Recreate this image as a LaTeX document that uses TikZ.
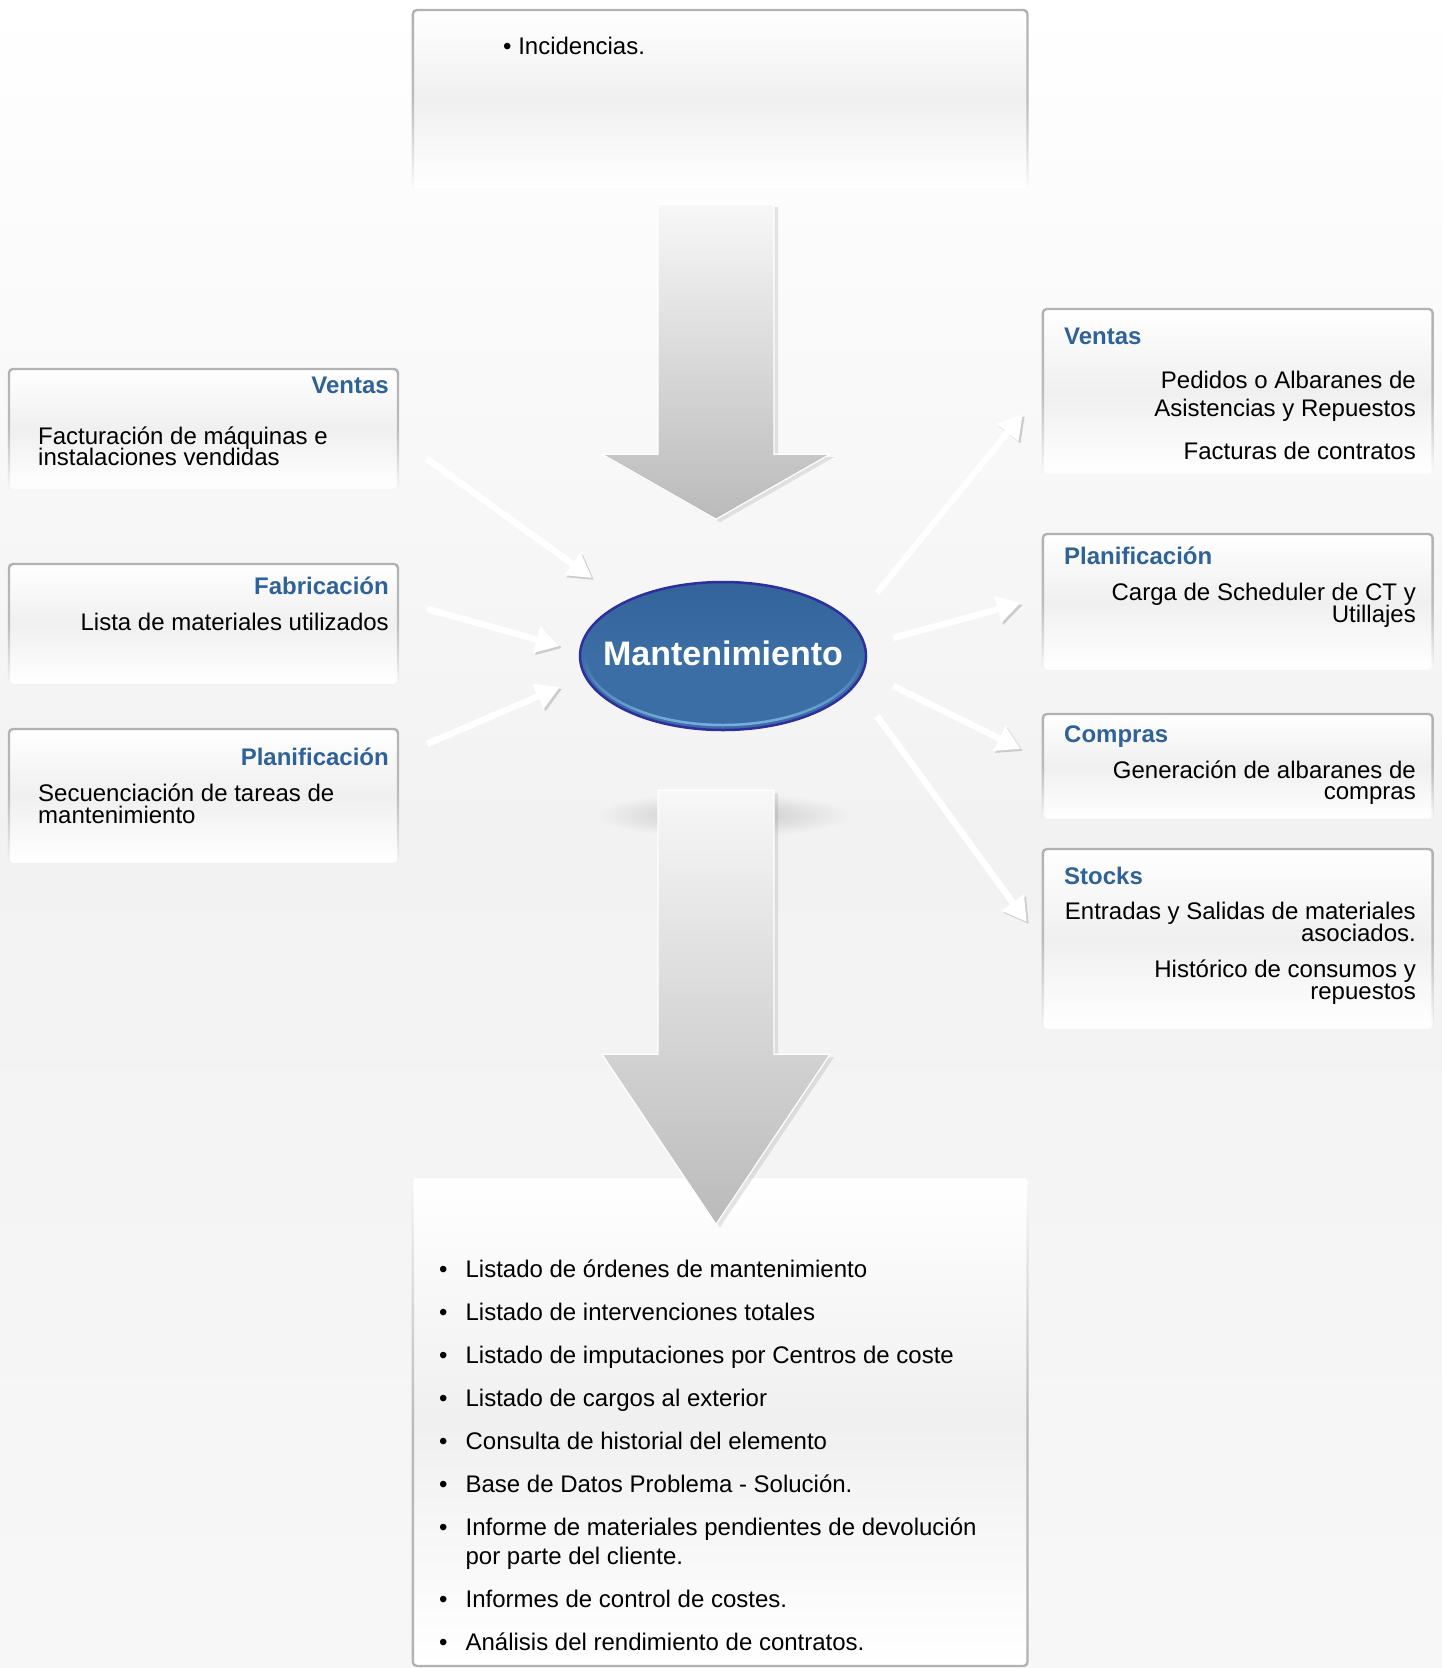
\documentclass[tikz,border=0pt]{standalone}
\usepackage{fontspec}
\setmainfont{Liberation Sans}
\usetikzlibrary{arrows.meta, positioning, shapes.geometric, calc, shadows, fadings}

\definecolor{titleblue}{HTML}{2F6299}
\definecolor{mantblue}{HTML}{3B6EA5}
\definecolor{mantdark}{HTML}{33639A}
\definecolor{mantlight}{HTML}{7AB0E6}
\definecolor{mantedge}{HTML}{2E2E9E}
\definecolor{bggray}{HTML}{F2F2F2}

\tikzfading[name=fadedown, top color=transparent!0, bottom color=transparent!100, middle color=transparent!15]
\tikzfading[name=fadeup, top color=transparent!100, bottom color=transparent!0, middle color=transparent!15]
\tikzfading[name=rimfade, top color=transparent!100, bottom color=transparent!0, middle color=transparent!100]

\tikzset{
  card/.style={rectangle, rounded corners=4pt, inner sep=0pt,
    top color=white, bottom color=white, middle color=black!6,
    postaction={draw=black!30, line width=2.4pt, path fading=fadedown}},
  cardup/.style={rectangle, rounded corners=4pt, inner sep=0pt,
    top color=white, bottom color=white, middle color=black!6,
    postaction={draw=black!30, line width=2.4pt, path fading=fadeup}},
  ttl/.style={font=\fontsize{24}{24}\selectfont\bfseries, text=titleblue, inner sep=0pt},
  txt/.style={font={\fontsize{24}{#1}\selectfont\lineskiplimit-50pt\relax}, inner sep=0pt},
  txt/.default=21,
  bigarrow/.style={top color=black!3, bottom color=black!27, draw=white, line width=1.2pt,
    drop shadow={shadow xshift=4pt, shadow yshift=-3pt, opacity=0.2}},
  flow/.style={draw=white, line width=6.5pt, -{Triangle[length=24pt, width=26pt]},
    preaction={draw=black!20, transform canvas={xshift=2pt, yshift=-2pt}}}
}

\begin{document}
\begin{tikzpicture}[x=1pt, y=-1pt]
  \useasboundingbox (0,0) rectangle (1442,1668);
  \fill[top color=white, bottom color=black!3, middle color=bggray] (0,0) rectangle (1442,1668);

  % boxes
  \node[card, minimum width=615pt, minimum height=179pt] (incid) at (720.5,99.5) {};
  \node[card, minimum width=389pt, minimum height=120pt] (vtL) at (203.5,429) {};
  \node[card, minimum width=389pt, minimum height=120pt] (fab) at (203.5,624) {};
  \node[card, minimum width=389pt, minimum height=134pt] (plL) at (203.5,796) {};
  \node[card, minimum width=390pt, minimum height=165pt] (vtR) at (1238,391.5) {};
  \node[card, minimum width=390pt, minimum height=136pt] (plR) at (1238,602) {};
  \node[card, minimum width=390pt, minimum height=105pt] (comp) at (1238,766.5) {};
  \node[card, minimum width=390pt, minimum height=180pt] (stk) at (1238,939) {};

  % texts (multi-line nodes sit on their last line)
  \node[txt, anchor=base west] (incidt) at (503,54) {• Incidencias.};
  \node[ttl, anchor=base east] (vtLt) at (389,393) {Ventas};
  \node[txt, anchor=base west, align=left] (vtLb) at (38,465) {Facturación de máquinas e\\instalaciones vendidas};
  \node[ttl, anchor=base east] (fabt) at (389,594) {Fabricación};
  \node[txt, anchor=base east] (fabb) at (389,630) {Lista de materiales utilizados};
  \node[ttl, anchor=base east] (plLt) at (389,765) {Planificación};
  \node[txt=22, anchor=base west, align=left] (plLb) at (38,823) {Secuenciación de tareas de\\mantenimiento};
  \node[ttl, anchor=base west] (vtRt) at (1064,344) {Ventas};
  \node[txt=28, anchor=base east, align=right] (vtRb) at (1416,459) {Pedidos o Albaranes de\\Asistencias y Repuestos\\[15pt]Facturas de contratos};
  \node[ttl, anchor=base west] (plRt) at (1064,564) {Planificación};
  \node[txt=22, anchor=base east, align=right] (plRb) at (1416,622) {Carga de Scheduler de CT y\\Utillajes};
  \node[ttl, anchor=base west] (compt) at (1064,742) {Compras};
  \node[txt, anchor=base east, align=right] (compb) at (1416,799) {Generación de albaranes de\\compras};
  \node[ttl, anchor=base west] (stkt) at (1064,884) {Stocks};
  \node[txt=22, anchor=base east, align=right] (stkb) at (1416,999) {Entradas y Salidas de materiales\\asociados.\\[14pt]Histórico de consumos y\\repuestos};

  % centre
  \node[ellipse, minimum width=286pt, minimum height=148pt, inner sep=0pt, draw=mantedge, line width=2.5pt,
    top color=mantdark, bottom color=mantblue, middle color=mantblue] (mant) at (723,656) {};
  \draw[mantlight, line width=2.5pt, path fading=rimfade] (mant) ellipse [x radius=138pt, y radius=69pt];
  \node[font=\fontsize{34}{34}\selectfont\bfseries, text=white, inner sep=0pt] (mantt) at ($(mant)+(0,-3)$) {Mantenimiento};

  % results box
  \node[cardup, minimum width=615pt, minimum height=488pt] (lst) at (720.5,1422) {};
  \node[font=\fontsize{24}{29}\selectfont, inner sep=0pt, anchor=base west] (lstb) at (439,1277) {\begin{tabular}[t]{@{}l@{\hspace{18pt}}l@{}}
    • & Listado de órdenes de mantenimiento\\[14pt]
    • & Listado de intervenciones totales\\[14pt]
    • & Listado de imputaciones por Centros de coste\\[14pt]
    • & Listado de cargos al exterior\\[14pt]
    • & Consulta de historial del elemento\\[14pt]
    • & Base de Datos Problema - Solución.\\[14pt]
    • & Informe de materiales pendientes de devolución\\
      & por parte del cliente.\\[14pt]
    • & Informes de control de costes.\\[14pt]
    • & Análisis del rendimiento de contratos.
  \end{tabular}};

  % big arrows
  \path[bigarrow] ($(incid.south)+(-62.5,15)$) -- ++(116,0) -- ++(0,250) -- ++(56,0) -- ++(-114,65) -- ++(-114,-65) -- ++(56,0) -- cycle;
  \shade[inner color=black!24, outer color=bggray] ($(mant.south)+(0,84)$) ellipse [x radius=128pt, y radius=22pt];
  \path[bigarrow] ($(mant.south)+(-65,59)$) -- ++(116,0) -- ++(0,264) -- ++(56,0) -- ++(-114,170) -- ++(-114,-170) -- ++(56,0) -- cycle;

  % white arrows
  \draw[flow] ($(vtL.east)+(29,30)$) -- ($(mant)+(-131,-78)$);
  \draw[flow] ($(fab.east)+(29,-15)$) -- ($(mant)+(-163,-10)$);
  \draw[flow] ($(plL.east)+(29,-52)$) -- ($(mant)+(-163,31)$);
  \draw[flow] ($(mant)+(154,-63)$) -- ($(vtR.west)+(-20,22.5)$);
  \draw[flow] ($(mant)+(170,-18)$) -- ($(plR.west)+(-22,1)$);
  \draw[flow] ($(mant)+(170,30)$) -- ($(comp.west)+(-22,-17.5)$);
  \draw[flow] ($(mant)+(154,60)$) -- ($(stk.west)+(-16,-17)$);
\end{tikzpicture}
\end{document}
